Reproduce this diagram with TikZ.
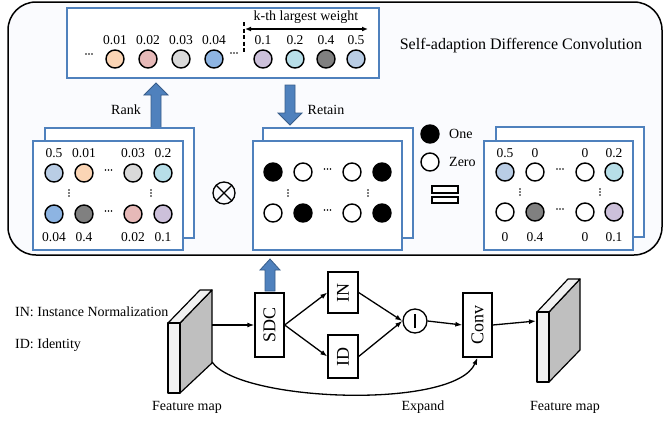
\documentclass[tikz,border=0pt]{standalone}
\usepackage{fontspec}
\usepackage{graphicx}
\setmainfont{Liberation Serif}
\usetikzlibrary{arrows.meta}
\definecolor{boxblue}{RGB}{79,129,189}
\definecolor{arrblue}{RGB}{79,129,189}
\definecolor{arredge}{RGB}{56,93,138}
\definecolor{bgtint}{RGB}{250,251,254}
\definecolor{cpeach}{RGB}{251,213,181}
\definecolor{cpink}{RGB}{230,185,184}
\definecolor{clgray}{RGB}{217,217,217}
\definecolor{cmblue}{RGB}{141,180,226}
\definecolor{clav}{RGB}{204,192,218}
\definecolor{ccyan}{RGB}{183,222,232}
\definecolor{cdgray}{RGB}{128,128,128}
\definecolor{csblue}{RGB}{185,205,229}
\definecolor{fmfront}{RGB}{242,242,242}
\definecolor{fmside}{RGB}{191,191,191}
\newcommand\setfs[1]{\fontsize{#1}{#1}\selectfont}
\tikzset{
  bluebox/.style={draw=boxblue, line width=2, fill=white},
  wdot/.style={circle, draw=black, line width=1.45, minimum size=18, inner sep=0, fill=white},
  bdot/.style={wdot, fill=black},
  num/.style={font=\setfs{13.5}, inner sep=0},
  lbl/.style={font=\setfs{14}, inner sep=0},
  procbox/.style={draw=black, line width=1.3, fill=white, inner sep=0, font=\setfs{18}},
  conn/.style={line width=1.3, -{Latex[length=7,width=5]}},
  blockarrow/.style={fill=arrblue, draw=arredge, line width=0.8},
  fmface/.style={draw=black, line width=1.2, line join=round},
  pics/hdots/.style={code={\foreach \i in {-3,0,3} \fill (\i,0) circle (0.8);}},
  pics/vdots/.style={code={\foreach \i in {-3,0,3} \fill (0,\i) circle (0.8);}}
}
\begin{document}
\begin{tikzpicture}[x=1pt,y=-1pt]
\useasboundingbox (0,0) rectangle (665,424);
% big rounded container
\draw[line width=1.5, fill=bgtint, rounded corners=28] (8,2) rectangle (662,255);
\node[font=\setfs{16}, inner sep=0] (title) at (521,46) {Self-adaption Difference Convolution};

% top ranked row
\node[bluebox, minimum width=312, minimum height=70, inner sep=0] (topbox) at (223,43) {};
\foreach \x/\c/\v [count=\i] in {115/cpeach/0.01,148/cpink/0.02,181/clgray/0.03,214/cmblue/0.04,263/clav/0.1,295/ccyan/0.2,326/cdgray/0.4,356/csblue/0.5}{
  \node[wdot, fill=\c] (t\i) at (\x,59) {};
  \node[num] (tl\i) at (\x,40) {\v};
}
\pic at (89,54) {hdots};
\pic at (234,53) {hdots};
\coordinate (dtop) at (244,22);
\coordinate (dbot) at (244,52);
\draw[line width=1.6, dash pattern=on 4pt off 2.5pt] (dtop) -- (dbot);
\coordinate (ka) at (245,29);
\coordinate (kb) at (368,29);
\draw[line width=1.2, {Latex[length=6,width=5]}-{Latex[length=6,width=5]}] (ka) -- (kb);
\node[lbl] (klbl) at (306,17) {k-th largest weight};

% Rank / Retain block arrows
\draw[blockarrow] (151,128) -- (151,95) -- (144,95) -- (156,83) -- (168,95) -- (161,95) -- (161,128) -- cycle;
\node[lbl] (rank) at (126,110) {Rank};
\draw[blockarrow] (285,85) -- (285,113) -- (278,113) -- (290,125) -- (302,113) -- (295,113) -- (295,85) -- cycle;
\node[lbl] (retain) at (326,110) {Retain};

% left weight matrix
\draw[bluebox] (45,128) rectangle (194,238);
\node[bluebox, minimum width=150, minimum height=109, inner sep=0] (lmat) at (108,195.5) {};
\foreach \x/\c/\v [count=\i] in {54/csblue/0.5,84/cpeach/0.01,133/clgray/0.03,163/ccyan/0.2}{
  \node[wdot, fill=\c] (la\i) at (\x,173) {};
  \node[num] at (\x,153) {\v};
}
\foreach \x/\c/\v [count=\i] in {54/cmblue/0.04,84/cdgray/0.4,133/cpink/0.02,163/clav/0.1}{
  \node[wdot, fill=\c] (lb\i) at (\x,214) {};
  \node[num] at (\x,237) {\v};
}
\pic at (108.5,170) {hdots};
\pic at (108.5,211) {hdots};
\pic at (69,193) {vdots};
\pic at (151,193) {vdots};

% otimes
\node[circle, draw, line width=1.3, minimum size=22, inner sep=0] (otimes) at (224,193) {};
\draw[line width=1.3] (otimes.north west) -- (otimes.south east) (otimes.north east) -- (otimes.south west);

% mask matrix
\draw[bluebox] (263,128) rectangle (413,238);
\node[bluebox, minimum width=149, minimum height=109, inner sep=0] (mmat) at (327.5,195.5) {};
\node[bdot] (ma1) at (273,172) {};
\node[wdot] (ma2) at (303,172) {};
\node[wdot] (ma3) at (352,172) {};
\node[bdot] (ma4) at (382,172) {};
\node[wdot] (mb1) at (273,213) {};
\node[bdot] (mb2) at (303,213) {};
\node[wdot] (mb3) at (352,213) {};
\node[bdot] (mb4) at (382,213) {};
\pic at (327.5,169) {hdots};
\pic at (327.5,210) {hdots};
\pic at (288,193) {vdots};
\pic at (368,193) {vdots};

% legend
\node[bdot] (legone) at (430,134) {};
\node[lbl, anchor=west] (onetxt) at (449,134) {One};
\node[wdot] (legzero) at (430,162) {};
\node[lbl, anchor=west] (zerotxt) at (449,162) {Zero};

% equals
\draw[line width=1.6, fill=white] (432,186) rectangle (458,193);
\draw[line width=1.6, fill=white] (432,197) rectangle (458,203);

% result matrix
\draw[bluebox] (496,127) rectangle (644,237);
\node[bluebox, minimum width=149, minimum height=109, inner sep=0] (rmat) at (558.5,195.5) {};
\node[wdot, fill=csblue] (ra1) at (505,172) {};
\node[wdot] (ra2) at (535,172) {};
\node[wdot] (ra3) at (585,172) {};
\node[wdot, fill=ccyan] (ra4) at (614,172) {};
\node[wdot] (rb1) at (505,212) {};
\node[wdot, fill=cdgray] (rb2) at (535,212) {};
\node[wdot] (rb3) at (585,212) {};
\node[wdot, fill=clav] (rb4) at (614,212) {};
\foreach \x/\v in {505/0.5,535/0,585/0,614/0.2} \node[num] at (\x,153) {\v};
\foreach \x/\v in {505/0,535/0.4,585/0,614/0.1} \node[num] at (\x,237) {\v};
\pic at (560,169) {hdots};
\pic at (560,209) {hdots};
\pic at (520,192) {vdots};
\pic at (600,192) {vdots};

% ---------- bottom pipeline ----------
\node[lbl, anchor=west] (innote) at (15,312) {IN: Instance Normalization};
\node[lbl, anchor=west] (idnote) at (15,345) {ID: Identity};

% left feature map
\draw[fmface, fill=fmside] (180,323) -- (212,290) -- (212,363) -- (180,393) -- cycle;
\draw[fmface, fill=fmfront] (168,323) -- (180,323) -- (212,290) -- (200,290) -- cycle;
\draw[fmface, fill=fmfront] (168,323) rectangle (180,393);
\coordinate (fmlout) at (212,325);
\coordinate (fmlcurve) at (212,362);
\node[lbl] (fmllbl) at (187,407) {Feature map};

% right feature map
\draw[fmface, fill=fmside] (549,312) -- (580,279) -- (580,350) -- (549,382) -- cycle;
\draw[fmface, fill=fmfront] (537,312) -- (549,312) -- (580,279) -- (568,279) -- cycle;
\draw[fmface, fill=fmfront] (537,312) rectangle (549,382);
\coordinate (fmrin) at (536,321);
\node[lbl] (fmrlbl) at (565,407) {Feature map};

% process boxes
\node[procbox, minimum width=29, minimum height=64] (sdc) at (269.5,325) {\rotatebox{90}{SDC}};
\node[procbox, minimum width=30, minimum height=41] (in) at (343,292.5) {\rotatebox{90}{IN}};
\node[procbox, minimum width=30, minimum height=43] (id) at (343,356.5) {\rotatebox{90}{ID}};
\node[circle, draw, line width=1.3, fill=white, minimum size=24, inner sep=0] (minus) at (415,321) {};
\draw[line width=1.3] ([yshift=-7]minus.center) -- ([yshift=7]minus.center);
\node[procbox, minimum width=29, minimum height=64] (conv) at (477.5,325) {\rotatebox{90}{Conv}};

% SDC block arrow up
\draw[blockarrow] (265,291) -- (265,270) -- (260,270) -- (270,259) -- (280,270) -- (275,270) -- (275,291) -- cycle;

% connectors
\draw[conn] (fmlout) -- (sdc.west |- fmlout);
\draw[conn] (sdc.east) -- (in.west);
\draw[conn] (sdc.east) -- (id.west);
\draw[conn] (in.east) -- (minus.west);
\draw[conn] (id.east) -- (minus.west);
\draw[conn] (minus.east) -- (conv.west);
\draw[conn] (conv.east) -- (fmrin);
\draw[conn] (fmlcurve) .. controls (240,402) and (455,410) .. (conv.south);
\node[lbl] (expand) at (423,407) {Expand};
\end{tikzpicture}
\end{document}
